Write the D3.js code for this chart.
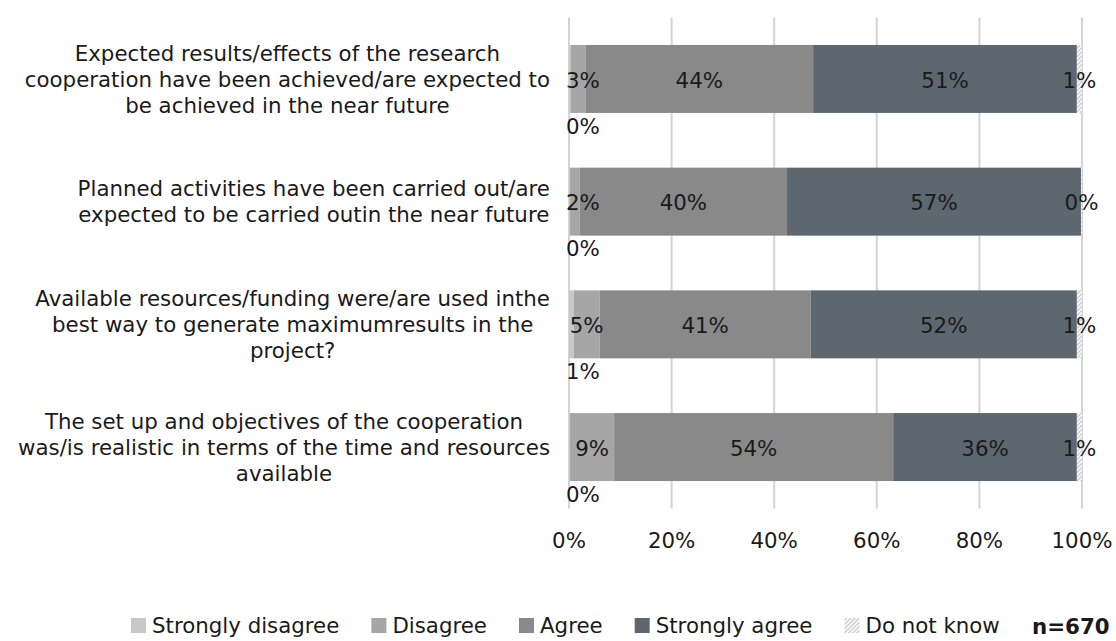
<!DOCTYPE html>
<html lang="en">
<head>
    <meta charset="UTF-8">
    <title>Research cooperation assessment</title>
    <style>
        body { margin: 0; background: #fff; }
        svg { display: block; font-family: "DejaVu Sans", Verdana, sans-serif; }
    </style>
    <script src="https://d3js.org/d3.v7.min.js"></script>
</head>
<body>
    <script>
        // category labels, already broken into lines as in the original
        var categories = [
            ["Expected results/effects of the research", "cooperation have been achieved/are expected to", "be achieved in the near future"],
            ["Planned activities have been carried out/are", "expected to be carried outin the near future"],
            ["Available resources/funding were/are used inthe", "best way to generate maximumresults in the", "project?"],
            ["The set up and objectives of the cooperation", "was/is realistic in terms of the time and resources", "available"]
        ];
        var seriesNames = ["Strongly disagree", "Disagree", "Agree", "Strongly agree", "Do not know"];
        var stronglyDisagree = [0.3, 0.2, 0.9, 0.2];
        var disagree = [2.9, 1.9, 5.1, 8.6];
        var agree = [44.4, 40.4, 41.1, 54.4];
        var stronglyAgree = [51.4, 57.3, 51.9, 35.8];
        var doNotKnow = [1.0, 0.2, 1.0, 1.0];
        var xTicks = [0, 20, 40, 60, 80, 100];
        var sampleNote = "n=670";

        var width = 1116, height = 641;
        var fontSize = 21.33;
        var textColor = "#1a1a1a";
        var colors = ["#c8c8c8", "#a6a6a6", "#898989", "#5d6770", "url(#hatch)"];

        var seriesValues = [stronglyDisagree, disagree, agree, stronglyAgree, doNotKnow];
        var table = categories.map(function(c, i) {
            var row = { idx: i };
            seriesNames.forEach(function(s, k) { row[s] = seriesValues[k][i]; });
            return row;
        });

        var svg = d3.select("body").append("svg")
            .attr("width", width)
            .attr("height", height);

        var defs = svg.append("defs");
        var pat = defs.append("pattern")
            .attr("id", "hatch")
            .attr("patternUnits", "userSpaceOnUse")
            .attr("width", 3).attr("height", 3)
            .attr("patternTransform", "rotate(45)");
        pat.append("rect").attr("width", 3).attr("height", 3).attr("fill", "#ffffff");
        pat.append("rect").attr("width", 1.3).attr("height", 3).attr("fill", "#c4c4c4");

        var x = d3.scaleLinear().domain([0, 100]).range([569, 1082]);
        var y = d3.scaleBand()
            .domain(d3.range(categories.length))
            .range([17.6, 508.4])
            .paddingInner(0.446)
            .paddingOuter(0.223);

        // vertical gridlines
        svg.append("g").selectAll("line")
            .data(xTicks)
            .enter().append("line")
            .attr("x1", d => x(d)).attr("x2", d => x(d))
            .attr("y1", y.range()[0]).attr("y2", y.range()[1])
            .attr("stroke", "#d4d4d4")
            .attr("stroke-width", 2);

        // tick labels
        svg.append("g").selectAll("text")
            .data(xTicks)
            .enter().append("text")
            .attr("x", d => x(d))
            .attr("y", 540)
            .attr("dy", "0.36em")
            .attr("text-anchor", "middle")
            .attr("font-size", fontSize)
            .attr("fill", textColor)
            .text(d => d + "%");

        var stack = d3.stack().keys(seriesNames);
        var stacked = stack(table);

        var layers = svg.append("g").selectAll("g")
            .data(stacked)
            .enter().append("g")
            .attr("fill", (d, i) => colors[i]);

        layers.selectAll("rect")
            .data(d => d)
            .enter().append("rect")
            .attr("x", d => x(d[0]))
            .attr("width", d => x(d[1]) - x(d[0]))
            .attr("y", d => y(d.data.idx))
            .attr("height", y.bandwidth());

        // data labels (first series sits under the bar, labels kept inside the plot on the left)
        var labelG = svg.append("g");
        stacked.forEach(function(layer, k) {
            layer.forEach(function(d) {
                var val = d[1] - d[0];
                var cy = y(d.data.idx) + y.bandwidth() / 2;
                var t = labelG.append("text")
                    .attr("font-size", fontSize)
                    .attr("fill", textColor)
                    .attr("text-anchor", "middle")
                    .attr("dy", "0.36em")
                    .text(Math.round(val) + "%");
                var w = t.node().getComputedTextLength();
                var cx = x((d[0] + d[1]) / 2);
                cx = Math.max(cx, x(0) + w / 2 - 3);
                if (k === 0) cy += 46;
                t.attr("x", cx).attr("y", cy + 1);
            });
        });

        // category labels, right edge of block at 550, lines centred within block
        var catG = svg.append("g");
        var lineH = 26;
        categories.forEach(function(lines, i) {
            var cy = y(i) + y.bandwidth() / 2;
            var texts = lines.map(function(line, j) {
                return catG.append("text")
                    .attr("font-size", fontSize)
                    .attr("fill", textColor)
                    .attr("text-anchor", "middle")
                    .attr("dy", "0.36em")
                    .attr("y", cy + (j - (lines.length - 1) / 2) * lineH)
                    .text(line);
            });
            var maxW = d3.max(texts, t => t.node().getComputedTextLength());
            texts.forEach(t => t.attr("x", 550 - maxW / 2));
        });

        // legend
        var legend = svg.append("g");
        var lx = 131;
        seriesNames.forEach(function(name, i) {
            legend.append("rect")
                .attr("x", lx).attr("y", 618)
                .attr("width", 15).attr("height", 15)
                .attr("fill", colors[i]);
            var t = legend.append("text")
                .attr("x", lx + 21)
                .attr("y", 625.5)
                .attr("dy", "0.36em")
                .attr("font-size", fontSize)
                .attr("fill", textColor)
                .text(name);
            lx += 21 + t.node().getComputedTextLength() + 32;
        });

        svg.append("text")
            .attr("x", 1032)
            .attr("y", 634)
            .attr("font-size", fontSize)
            .attr("font-weight", "bold")
            .attr("fill", textColor)
            .text(sampleNote);
    </script>
</body>
</html>
